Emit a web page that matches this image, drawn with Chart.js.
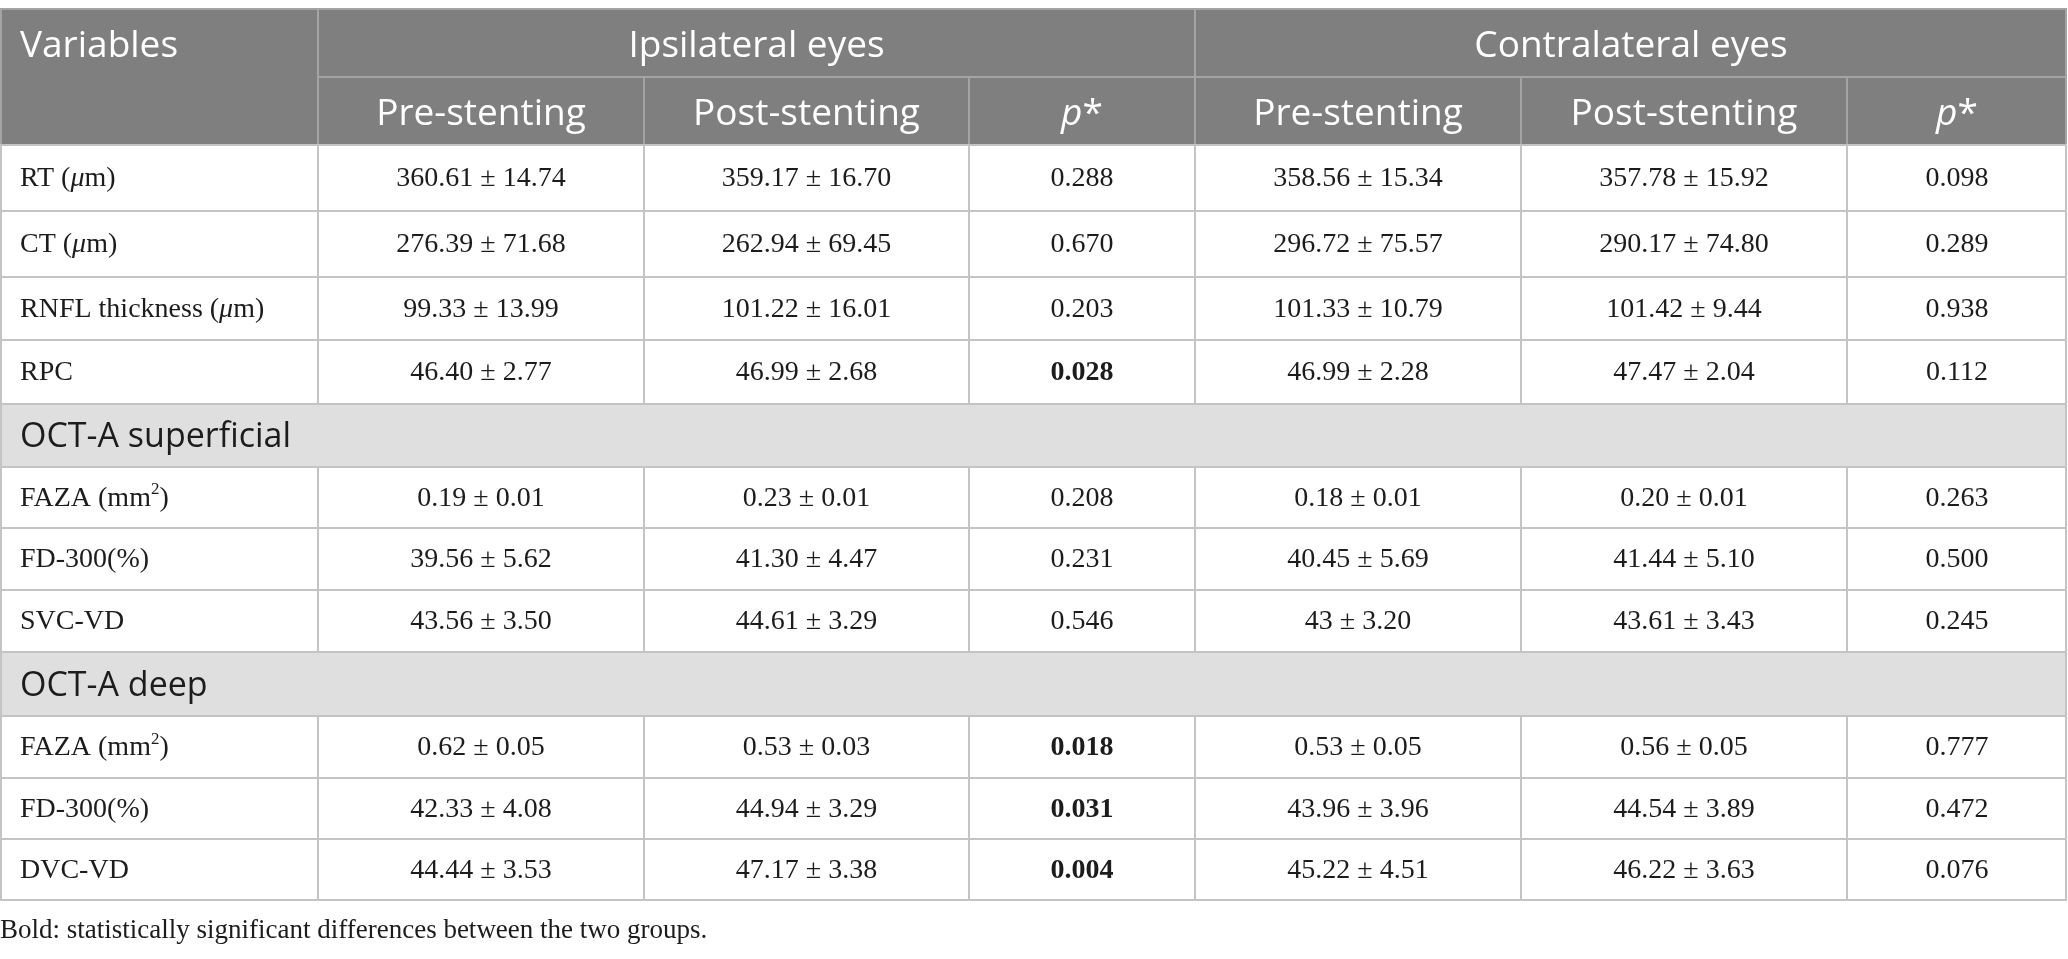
<!DOCTYPE html>
<html>
<head>
<meta charset="utf-8">
<script src="https://cdn.jsdelivr.net/npm/chart.js@4.4.1/dist/chart.umd.min.js"></script>
<style>
  html, body { margin: 0; padding: 0; background: #ffffff; }
  #wrap { width: 2068px; height: 959px; position: relative; }
</style>
</head>
<body>
<div id="wrap"><canvas id="table"></canvas></div>
<script>
// _x_ = italic, ^x = superscript
const variables = [
  "RT (_μ_m)", "CT (_μ_m)", "RNFL thickness (_μ_m)", "RPC",
  "FAZA (mm^2)", "FD-300(%)", "SVC-VD",
  "FAZA (mm^2)", "FD-300(%)", "DVC-VD",
];
const groupHeadings = ["OCT-A superficial", "OCT-A deep"];
const groupStartsAt = [4, 7];

const sideHeadings = ["Ipsilateral eyes", "Contralateral eyes"];
const columnHeadings = ["Pre-stenting", "Post-stenting", "_p_*"];
const cornerHeading = "Variables";

const ipsiPre = ["360.61 ± 14.74", "276.39 ± 71.68", "99.33 ± 13.99", "46.40 ± 2.77",
  "0.19 ± 0.01", "39.56 ± 5.62", "43.56 ± 3.50", "0.62 ± 0.05", "42.33 ± 4.08", "44.44 ± 3.53"];
const ipsiPost = ["359.17 ± 16.70", "262.94 ± 69.45", "101.22 ± 16.01", "46.99 ± 2.68",
  "0.23 ± 0.01", "41.30 ± 4.47", "44.61 ± 3.29", "0.53 ± 0.03", "44.94 ± 3.29", "47.17 ± 3.38"];
const ipsiP = ["0.288", "0.670", "0.203", "0.028", "0.208", "0.231", "0.546", "0.018", "0.031", "0.004"];
const contraPre = ["358.56 ± 15.34", "296.72 ± 75.57", "101.33 ± 10.79", "46.99 ± 2.28",
  "0.18 ± 0.01", "40.45 ± 5.69", "43 ± 3.20", "0.53 ± 0.05", "43.96 ± 3.96", "45.22 ± 4.51"];
const contraPost = ["357.78 ± 15.92", "290.17 ± 74.80", "101.42 ± 9.44", "47.47 ± 2.04",
  "0.20 ± 0.01", "41.44 ± 5.10", "43.61 ± 3.43", "0.56 ± 0.05", "44.54 ± 3.89", "46.22 ± 3.63"];
const contraP = ["0.098", "0.289", "0.938", "0.112", "0.263", "0.500", "0.245", "0.777", "0.472", "0.076"];

const footnote = "Bold: statistically significant differences between the two groups.";
const significanceLevel = 0.05;

// layout (in scale units, which span the page)
const columnEdges = [0, 318, 644, 969, 1195, 1521, 1847, 2067];
const headerEdges = [9, 77, 145];
const bodyRowHeights = [66, 66, 63, 64, 63, 61, 62, 62, 64, 62, 61, 61];
const footnoteY = 931;
const labelInset = 20;

const colors = {
  headerFill: "#7f7f7f",
  headerLine: "#a4a4a4",
  groupFill: "#e0dfe0",
  line: "#c4c4c4",
  headerText: "#ffffff",
  text: "#1c1c1c",
};
const sansFamily = "'Open Sans', 'Noto Sans', sans-serif";
const serifFamily = "'Liberation Serif', 'DejaVu Serif', serif";
const headerSize = 37;
const groupSize = 34;
const bodySize = 28;
const footnoteSize = 27;

function parseRuns(text) {
  const runs = [];
  const pattern = /_([^_]+)_|\^(\S)/g;
  let last = 0;
  let match;
  while ((match = pattern.exec(text)) !== null) {
    if (match.index > last) {
      runs.push({ text: text.slice(last, match.index) });
    }
    if (match[1] !== undefined) {
      runs.push({ text: match[1], italic: true });
    } else {
      runs.push({ text: match[2], sup: true });
    }
    last = pattern.lastIndex;
  }
  if (last < text.length) {
    runs.push({ text: text.slice(last) });
  }
  return runs;
}

function runFont(run, size, family, bold) {
  const px = run.sup ? Math.round(size * 0.62) : size;
  return `${run.italic ? "italic " : ""}${bold ? "bold " : ""}${px}px ${family}`;
}

function drawRich(ctx, text, x, y, align, size, family, color, bold) {
  const runs = parseRuns(text);
  let total = 0;
  runs.forEach((run) => {
    ctx.font = runFont(run, size, family, bold);
    run.width = ctx.measureText(run.text).width;
    total += run.width;
  });
  let cursor = align === "center" ? x - total / 2 : x;
  ctx.fillStyle = color;
  ctx.textAlign = "left";
  ctx.textBaseline = "middle";
  runs.forEach((run) => {
    ctx.font = runFont(run, size, family, bold);
    ctx.fillText(run.text, cursor, run.sup ? y - size * 0.32 : y);
    cursor += run.width;
  });
}

function buildBodyRows() {
  const rows = [];
  let groupIndex = 0;
  variables.forEach((label, i) => {
    if (groupStartsAt[groupIndex] === i) {
      rows.push({ group: groupHeadings[groupIndex] });
      groupIndex += 1;
    }
    rows.push({
      cells: [label, ipsiPre[i], ipsiPost[i], ipsiP[i], contraPre[i], contraPost[i], contraP[i]],
    });
  });
  return rows;
}

const tablePlugin = {
  id: "studyTable",
  afterDraw(chart) {
    const ctx = chart.ctx;
    const xScale = chart.scales.x;
    const yScale = chart.scales.y;
    const px = (v) => xScale.getPixelForValue(v);
    const py = (v) => yScale.getPixelForValue(v);
    const left = px(columnEdges[0]);
    const right = px(columnEdges[columnEdges.length - 1]);

    const rows = buildBodyRows();
    const rowEdges = [headerEdges[2]];
    bodyRowHeights.forEach((h) => rowEdges.push(rowEdges[rowEdges.length - 1] + h));

    ctx.save();

    // header block
    ctx.fillStyle = colors.headerFill;
    ctx.fillRect(left, py(headerEdges[0]), right - left, py(headerEdges[2]) - py(headerEdges[0]));

    // group row fills
    rows.forEach((row, r) => {
      if (row.group) {
        ctx.fillStyle = colors.groupFill;
        ctx.fillRect(left, py(rowEdges[r]), right - left, py(rowEdges[r + 1]) - py(rowEdges[r]));
      }
    });

    ctx.lineWidth = 2;

    // header lines
    ctx.strokeStyle = colors.headerLine;
    ctx.beginPath();
    ctx.moveTo(left, py(headerEdges[0]));
    ctx.lineTo(right, py(headerEdges[0]));
    ctx.moveTo(px(columnEdges[1]), py(headerEdges[1]));
    ctx.lineTo(right, py(headerEdges[1]));
    [1, 4].forEach((c) => {
      ctx.moveTo(px(columnEdges[c]), py(headerEdges[0]));
      ctx.lineTo(px(columnEdges[c]), py(headerEdges[2]));
    });
    [2, 3, 5, 6].forEach((c) => {
      ctx.moveTo(px(columnEdges[c]), py(headerEdges[1]));
      ctx.lineTo(px(columnEdges[c]), py(headerEdges[2]));
    });
    ctx.moveTo(left + 1, py(headerEdges[0]));
    ctx.lineTo(left + 1, py(headerEdges[2]));
    ctx.moveTo(right - 1, py(headerEdges[0]));
    ctx.lineTo(right - 1, py(headerEdges[2]));
    ctx.stroke();

    // body lines
    ctx.strokeStyle = colors.line;
    ctx.beginPath();
    rowEdges.forEach((edge) => {
      ctx.moveTo(left, py(edge));
      ctx.lineTo(right, py(edge));
    });
    rows.forEach((row, r) => {
      const top = py(rowEdges[r]);
      const bottom = py(rowEdges[r + 1]);
      const verticals = row.group ? [0, columnEdges.length - 1] : columnEdges.map((_, c) => c);
      verticals.forEach((c) => {
        let x = px(columnEdges[c]);
        if (c === 0) x += 1;
        if (c === columnEdges.length - 1) x -= 1;
        ctx.moveTo(x, top);
        ctx.lineTo(x, bottom);
      });
    });
    ctx.stroke();

    // header text
    const midRow1 = py((headerEdges[0] + headerEdges[1]) / 2 + 3);
    const midRow2 = py((headerEdges[1] + headerEdges[2]) / 2 + 3);
    drawRich(ctx, cornerHeading, px(columnEdges[0] + labelInset), midRow1, "left",
      headerSize, sansFamily, colors.headerText, false);
    sideHeadings.forEach((heading, s) => {
      const c0 = 1 + s * 3;
      drawRich(ctx, heading, (px(columnEdges[c0]) + px(columnEdges[c0 + 3])) / 2, midRow1, "center",
        headerSize, sansFamily, colors.headerText, false);
      columnHeadings.forEach((heading2, k) => {
        const c = c0 + k;
        drawRich(ctx, heading2, (px(columnEdges[c]) + px(columnEdges[c + 1])) / 2, midRow2, "center",
          headerSize, sansFamily, colors.headerText, false);
      });
    });

    // body text
    rows.forEach((row, r) => {
      const mid = py((rowEdges[r] + rowEdges[r + 1]) / 2);
      if (row.group) {
        drawRich(ctx, row.group, px(columnEdges[0] + labelInset), mid + 2, "left",
          groupSize, sansFamily, colors.text, false);
        return;
      }
      row.cells.forEach((cell, c) => {
        if (c === 0) {
          drawRich(ctx, cell, px(columnEdges[0] + labelInset), mid + 1, "left",
            bodySize, serifFamily, colors.text, false);
          return;
        }
        const isPValue = c === 3 || c === 6;
        const bold = isPValue && parseFloat(cell) < significanceLevel;
        drawRich(ctx, cell, (px(columnEdges[c]) + px(columnEdges[c + 1])) / 2, mid + 1, "center",
          bodySize, serifFamily, colors.text, bold);
      });
    });

    drawRich(ctx, footnote, px(columnEdges[0]), py(footnoteY), "left",
      footnoteSize, serifFamily, colors.text, false);

    ctx.restore();
  },
};

new Chart(document.getElementById("table"), {
  type: "scatter",
  data: { datasets: [{ data: [], pointRadius: 0 }] },
  plugins: [tablePlugin],
  options: {
    responsive: true,
    maintainAspectRatio: false,
    animation: false,
    events: [],
    layout: { padding: 0 },
    plugins: {
      legend: { display: false },
      tooltip: { enabled: false },
    },
    scales: {
      x: { type: "linear", min: 0, max: 2068, display: false },
      y: { type: "linear", min: 0, max: 959, reverse: true, display: false },
    },
  },
});
</script>
</body>
</html>
